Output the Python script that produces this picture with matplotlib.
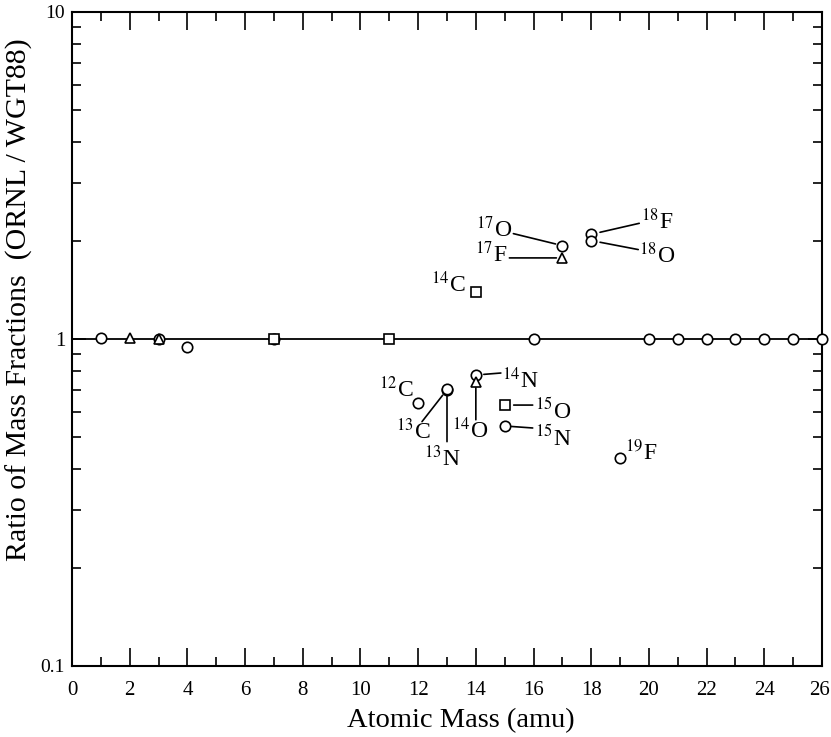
import matplotlib
matplotlib.use('Agg')
import matplotlib.pyplot as plt
from matplotlib.transforms import ScaledTranslation

plt.rcParams['font.family'] = ['Liberation Serif', 'DejaVu Serif']
plt.rcParams['mathtext.fontset'] = 'stix'

# --- dados (razao ORNL / WGT88) ---
circ_mass = [1, 3, 4, 7, 16, 20, 21, 22, 23, 24, 25, 26,
             12, 13, 13, 14, 15, 17, 18, 18, 19]
circ_ratio = [1.01, 1.0, 0.945, 1.0, 1.0, 1.0, 1.0, 1.0, 1.0, 1.0, 1.0, 1.0,
              0.637, 0.70, 0.705, 0.776, 0.542, 1.93, 2.09, 2.0, 0.433]
tri_mass = [2, 3, 14, 17]
tri_ratio = [1.01, 1.0, 0.74, 1.77]
sq_mass = [7, 11, 14, 15]
sq_ratio = [1.0, 1.0, 1.39, 0.628]

# rotulos: (texto, massa, razao, dx, dy, alinhamento) deslocamentos em pixels
rotulos = [
    (r'$^{12}$C', 12, 0.637, -5, 6, 'right'),
    (r'$^{13}$C', 13, 0.70, -17, -50, 'right'),
    (r'$^{13}$N', 13, 0.70, -5, -77, 'center'),
    (r'$^{14}$O', 14, 0.74, -6, -56, 'center'),
    (r'$^{14}$N', 14, 0.776, 26, -13, 'left'),
    (r'$^{15}$O', 15, 0.628, 30, -13, 'left'),
    (r'$^{15}$N', 15, 0.542, 30, -19, 'left'),
    (r'$^{19}$F', 19, 0.433, 5, -2, 'left'),
    (r'$^{14}$C', 14, 1.39, -10, 0, 'right'),
    (r'$^{17}$O', 17, 1.93, -50, 8, 'right'),
    (r'$^{17}$F', 17, 1.77, -55, -4, 'right'),
    (r'$^{18}$F', 18, 2.09, 50, 5, 'left'),
    (r'$^{18}$O', 18, 2.0, 48, -23, 'left'),
]

# linhas de ligacao: (massa, razao, dx, dy, recuo em pixels)
ligacoes = [
    (13, 0.70, -25, -32, 7),
    (13, 0.70, 0, -52, 5),
    (14, 0.74, 0, -38, 6),
    (14, 0.776, 25, 2, 8),
    (15, 0.628, 28, 0, 9),
    (15, 0.542, 28, -2, 7),
    (17, 1.93, -49, 12, 7),
    (17, 1.77, -53, 0, 6),
    (18, 2.09, 48, 11, 9),
    (18, 2.0, 47, -9, 9),
]

fig = plt.figure(figsize=(8.31, 7.37), dpi=100)
ax = fig.add_axes([72 / 831, 1 - 666 / 737, 750 / 831, 654 / 737])

ax.axhline(1, color='k', lw=1.3, zorder=1)

mk = dict(ls='none', mfc='white', mec='k', mew=1.2, clip_on=False, zorder=3)
ax.plot(circ_mass, circ_ratio, marker='o', ms=7.5, **mk)
ax.plot(tri_mass, tri_ratio, marker='^', ms=7.5, **mk)
ax.plot(sq_mass, sq_ratio, marker='s', ms=6.5, **mk)

for m, r, dx, dy, rec in ligacoes:
    ax.annotate('', xy=(m, r), xytext=(dx, dy), textcoords='offset pixels',
                arrowprops=dict(arrowstyle='-', color='k', lw=1.2,
                                shrinkA=0, shrinkB=rec * 0.72))

for txt, m, r, dx, dy, ha in rotulos:
    ax.annotate(txt, xy=(m, r), xytext=(dx, dy), textcoords='offset pixels',
                ha=ha, va='baseline', fontsize=17)

ax.set_yscale('log')
ax.set_xlim(0, 26)
ax.set_ylim(0.1, 10)
ax.set_xticks(range(0, 27, 2))
ax.set_xticks(range(0, 27), minor=True)
ax.set_yticks([0.1, 1, 10])
ax.set_yticklabels(['0.1', '1', '10'])
ax.tick_params(which='both', direction='in', top=True, right=True, width=1.2)
ax.tick_params(which='major', length=13, labelsize=15)
ax.tick_params(which='minor', length=6.5)
ax.tick_params(axis='x', which='major', pad=11)
ax.tick_params(axis='y', which='major', length=10, pad=5)
for lab in ax.get_yticklabels():
    if lab.get_text() != '1':
        lab.set_fontsize(14)

# o "26" fica encostado na borda, puxa um pouco para dentro
ultimo = ax.get_xticklabels()[-1]
ultimo.set_transform(ultimo.get_transform() + ScaledTranslation(-3 / 100, 0, fig.dpi_scale_trans))

for s in ax.spines.values():
    s.set_linewidth(1.5)

ax.set_xlabel('Atomic Mass (amu)', fontsize=20.5)
ax.set_ylabel('Ratio of Mass Fractions  (ORNL / WGT88)', fontsize=21.5)
ax.xaxis.set_label_coords(0.519, -0.064)
ax.yaxis.set_label_coords(-0.052, 0.56)

fig.savefig('out.png', dpi=100)
